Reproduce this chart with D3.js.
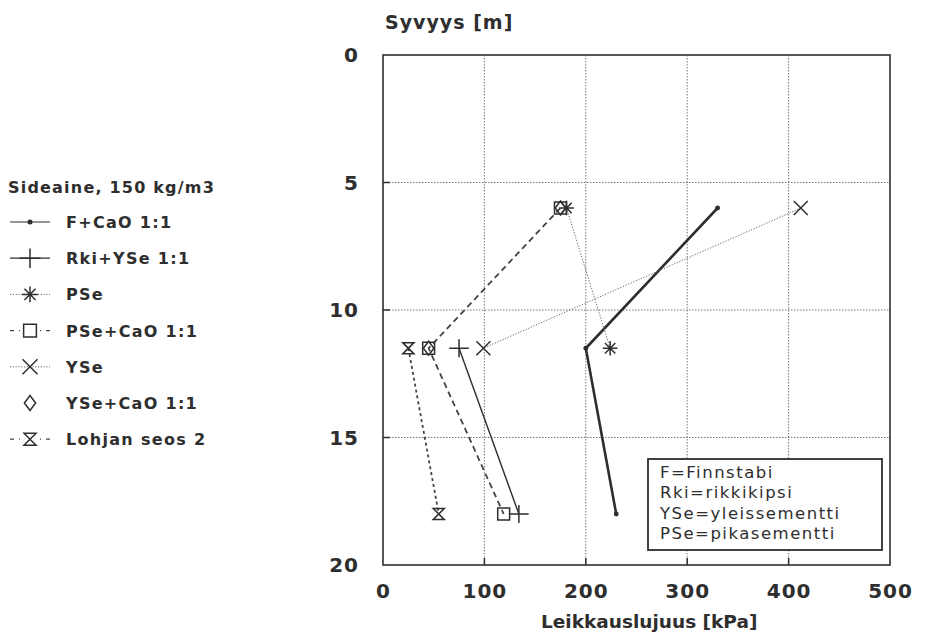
<!DOCTYPE html>
<html><head><meta charset="utf-8">
<script src="https://cdn.jsdelivr.net/npm/d3@7/dist/d3.min.js"></script>
<style>body{margin:0;background:#fff}svg{display:block}</style>
</head><body>
<svg id="c" width="925" height="634"></svg>
<script>
// ---- data ----
const seriesNames = ["F+CaO 1:1","Rki+YSe 1:1","PSe","PSe+CaO 1:1","YSe","YSe+CaO 1:1","Lohjan seos 2"];
const fcao   = [[330,6],[200,11.5],[230,18]];
const rkiyse = [[75,11.5],[134,18]];
const pse    = [[181,6],[224,11.5]];
const psecao = [[175,6],[45,11.5],[119,18]];
const yse    = [[412,6],[99,11.5]];
const ysecao = [[175,6],[45,11.5]];
const lohja  = [[25,11.5],[55,18]];
const xTicks = [0,100,200,300,400,500];
const yTicks = [0,5,10,15,20];
const infoLines = ["F=Finnstabi","Rki=rikkikipsi","YSe=yleissementti","PSe=pikasementti"];

const svg = d3.select("#c");
const ink = "#2e2e2e";
const x = d3.scaleLinear().domain([0,500]).range([383,890]);
const y = d3.scaleLinear().domain([0,20]).range([55,565]);
const font = "'DejaVu Sans', Verdana, sans-serif";

// grid
const g = svg.append("g");
g.selectAll(".gx").data(xTicks.slice(1,-1)).join("line")
  .attr("x1",d=>x(d)).attr("x2",d=>x(d)).attr("y1",y(0)).attr("y2",y(20))
  .attr("stroke","#777").attr("stroke-width",1).attr("stroke-dasharray","1.5,1.5");
g.selectAll(".gy").data(yTicks.slice(1,-1)).join("line")
  .attr("x1",x(0)).attr("x2",x(500)).attr("y1",d=>y(d)).attr("y2",d=>y(d))
  .attr("stroke","#777").attr("stroke-width",1).attr("stroke-dasharray","1.5,1.5");
// ticks
g.selectAll(".ty").data(yTicks.slice(1,-1)).join("line")
  .attr("x1",x(0)).attr("x2",x(0)+7).attr("y1",d=>y(d)).attr("y2",d=>y(d))
  .attr("stroke",ink).attr("stroke-width",1.5);
g.selectAll(".tx").data(xTicks.slice(1,-1)).join("line")
  .attr("x1",d=>x(d)).attr("x2",d=>x(d)).attr("y1",y(20)).attr("y2",y(20)-7)
  .attr("stroke",ink).attr("stroke-width",1.5);
// frame
g.append("rect").attr("x",x(0)).attr("y",y(0)).attr("width",x(500)-x(0)).attr("height",y(20)-y(0))
  .attr("fill","none").attr("stroke",ink).attr("stroke-width",1.6);

// tick labels
svg.selectAll(".yl").data(yTicks).join("text")
  .attr("x",359).attr("y",d=>y(d)+7).attr("text-anchor","end")
  .attr("font-family",font).attr("font-weight","bold").attr("font-size",20)
  .attr("letter-spacing",1).attr("fill",ink)
  .text(d=>d);
svg.selectAll(".xl").data(xTicks).join("text")
  .attr("x",d=>x(d)+0.5).attr("y",598).attr("text-anchor","middle")
  .attr("font-family",font).attr("font-weight","bold").attr("font-size",20)
  .attr("letter-spacing",1).attr("fill",ink)
  .text(d=>d);
svg.append("text").attr("x",385).attr("y",29).attr("font-family",font).attr("font-weight","bold")
  .attr("font-size",19).attr("letter-spacing",1).attr("fill",ink).text("Syvyys [m]");
svg.append("text").attr("x",541).attr("y",628).attr("font-family",font)
  .attr("font-weight","bold").attr("font-size",18.5).attr("fill",ink)
  .text("Leikkauslujuus [kPa]");

// markers
function marker(sel, type, cx, cy, s){
  const p = sel.append("path").attr("fill","none").attr("stroke",ink).attr("stroke-width",1.5);
  let d="";
  if(type==="dot"){ sel.append("circle").attr("cx",cx).attr("cy",cy).attr("r",Math.min(s*0.35,2.5)).attr("fill",ink); p.remove(); return; }
  if(type==="plus"){ d=`M${cx-s*1.4},${cy}H${cx+s*1.4}M${cx},${cy-s*1.3}V${cy+s*1.3}`; }
  if(type==="star"){ const r=s*1.05; for(let k=0;k<4;k++){const a=k*Math.PI/4; d+=`M${cx-r*Math.cos(a)},${cy-r*Math.sin(a)}L${cx+r*Math.cos(a)},${cy+r*Math.sin(a)}`;} }
  if(type==="square"){ d=`M${cx-s*0.85},${cy-s*0.85}h${s*1.7}v${s*1.7}h${-s*1.7}Z`; }
  if(type==="x"){ const r=s*1.0; d=`M${cx-r},${cy-r}L${cx+r},${cy+r}M${cx-r},${cy+r}L${cx+r},${cy-r}`; }
  if(type==="diamond"){ d=`M${cx},${cy-s}L${cx+s*0.75},${cy}L${cx},${cy+s}L${cx-s*0.75},${cy}Z`; }
  if(type==="hour"){ const r=s*0.8; d=`M${cx-r},${cy-r}H${cx+r}L${cx-r},${cy+r}H${cx+r}Z`; }
  p.attr("d",d);
}

const series = [
  {name:seriesNames[0], data:fcao,   mk:"dot",    w:2.6, dash:null, col:ink},
  {name:seriesNames[1], data:rkiyse, mk:"plus",   w:1.4, dash:null, col:ink},
  {name:seriesNames[2], data:pse,    mk:"star",   w:1,   dash:"1.2,1.6", col:"#666"},
  {name:seriesNames[3], data:psecao, mk:"square", w:1.8, dash:"6,4", col:"#444"},
  {name:seriesNames[4], data:yse,    mk:"x",      w:1,   dash:"1.2,1.6", col:"#666"},
  {name:seriesNames[5], data:ysecao, mk:"diamond",w:0,   dash:null, col:ink},
  {name:seriesNames[6], data:lohja,  mk:"hour",   w:1.8, dash:"3,3", col:"#444"}
];
const line = d3.line().x(d=>x(d[0])).y(d=>y(d[1]));
const gl = svg.append("g");
series.forEach(s=>{
  if(s.w>0){
    gl.append("path").attr("d",line(s.data)).attr("fill","none").attr("stroke",s.col)
      .attr("stroke-width",s.w).attr("stroke-dasharray",s.dash);
  }
});
series.forEach(s=>{
  s.data.forEach(d=>marker(gl, s.mk, x(d[0]), y(d[1]), 7));
});

// legend
const lg = svg.append("g");
lg.append("text").attr("x",8).attr("y",193).attr("font-family",font).attr("font-weight","bold")
  .attr("font-size",16).attr("letter-spacing",1.2).attr("fill",ink).text("Sideaine, 150 kg/m3");
series.forEach((s,i)=>{
  const cy = 222 + i*36.2;
  if(s.w>0){
    lg.append("line").attr("x1",10).attr("x2",50).attr("y1",cy).attr("y2",cy)
      .attr("stroke",s.col).attr("stroke-width",Math.min(s.w,1.2))
      .attr("stroke-dasharray", s.w>1.5 && s.dash ? "4,5" : s.dash);
  }
  if(s.mk!=="dot") { lg.append("rect").attr("x",20).attr("y",cy-10).attr("width",20).attr("height",20).attr("fill", s.dash && s.w>1.5 ? "#fff":"none"); }
  marker(lg, s.mk, 30, cy, 7.5);
  lg.append("text").attr("x",66).attr("y",cy+6).attr("font-family",font).attr("font-weight","bold")
    .attr("font-size",16).attr("letter-spacing",1.3).attr("fill",ink).text(s.name);
});

// info box
const ib = svg.append("g");
ib.append("rect").attr("x",648).attr("y",459).attr("width",234).attr("height",91)
  .attr("fill","#fff").attr("stroke",ink).attr("stroke-width",1.8);
ib.selectAll("text").data(infoLines).join("text")
  .attr("x",660).attr("y",(d,i)=>478+i*20.3).attr("font-family",font)
  .attr("font-size",16.5).attr("letter-spacing",1.5).attr("fill",ink).text(d=>d);
</script>
</body></html>
